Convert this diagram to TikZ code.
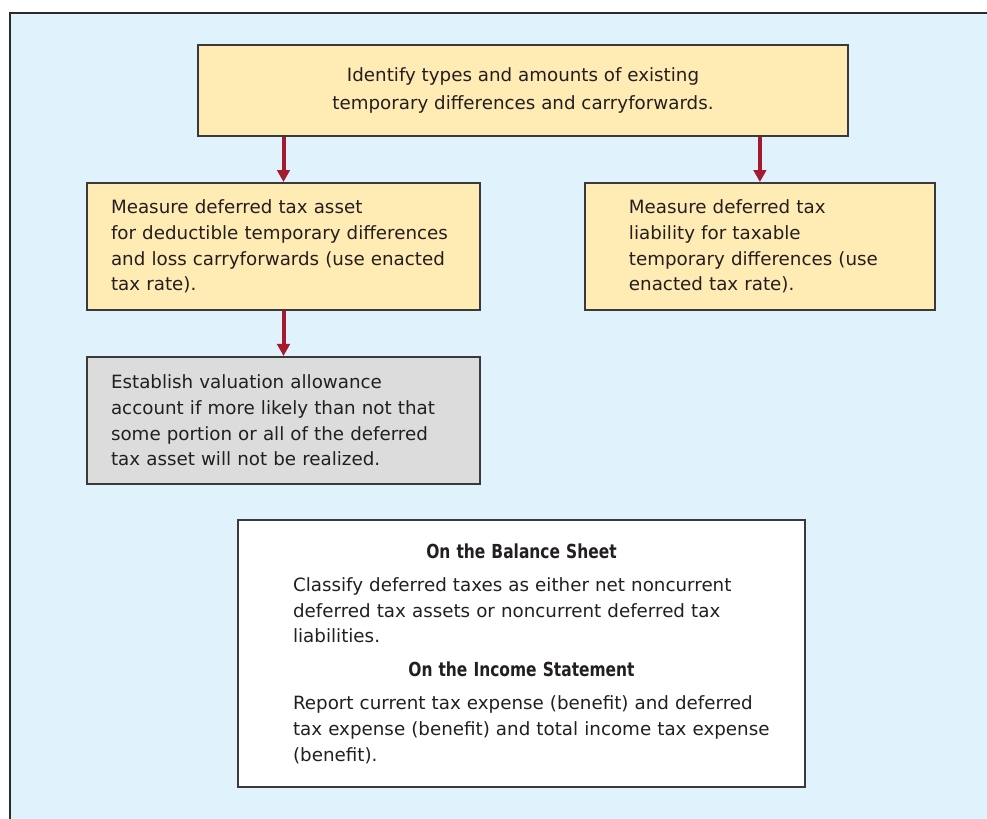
\documentclass[tikz,border=0pt]{standalone}
\usepackage{fontspec}
\setmainfont{DejaVu Sans}
\newfontfamily\headfam[FakeStretch=0.8]{DejaVu Sans}
\usetikzlibrary{arrows.meta,positioning}

\definecolor{panelblue}{HTML}{E0F2FC}
\definecolor{panelline}{HTML}{2B2B2B}
\definecolor{boxyellow}{HTML}{FFEBB3}
\definecolor{boxgrey}{HTML}{DCDCDC}
\definecolor{boxline}{HTML}{3A3A3A}
\definecolor{arrowred}{HTML}{A6192E}
\definecolor{ink}{HTML}{231F20}

\newcommand\txtsize{\fontsize{10.4pt}{14.6pt}\selectfont}
\newcommand\headtxt{\headfam\bfseries\fontsize{11pt}{14.6pt}\selectfont}
\newcommand\fullline[1]{\makebox[\linewidth][l]{#1}}

\tikzset{
	box/.style={draw=boxline, line width=0.04cm, inner ysep=0pt, font=\txtsize, text=ink},
	ybox/.style={box, fill=boxyellow},
	gbox/.style={box, fill=boxgrey},
	wbox/.style={box, fill=white},
	flow/.style={draw=arrowred, line width=0.08cm, -{Triangle[length=0.24cm, width=0.25cm]}},
}

\begin{document}
\begin{tikzpicture}[x=0.02cm, y=-0.02cm]
	\useasboundingbox (0,0) rectangle (987,818);
	\clip (0,0) rectangle (987,818);
	\draw [line width=0.04cm, draw=panelline, fill=panelblue] (10,13) rectangle (1010,840);

	\node (ident) [ybox, minimum width=13cm, minimum height=1.82cm, align=center] at (523,90.5) {Identify types and amounts of existing\\[1.5pt]temporary differences and carryforwards.};

	\node (asset) [ybox, text width=6.9cm, inner xsep=0.48cm, minimum height=2.54cm, align=left] at (283.5,246.5) {Measure deferred tax asset\\for deductible temporary differences\\and loss carryforwards (use enacted\\tax rate).};
	\node (liab) [ybox, text width=5.24cm, inner xsep=0.88cm, minimum height=2.54cm, align=left, right=2.06cm of asset] {Measure deferred tax\\liability for taxable\\temporary differences (use\\enacted tax rate).};

	\node (allow) [gbox, text width=6.9cm, inner xsep=0.48cm, minimum height=2.54cm, align=left, below=0.9cm of asset] {Establish valuation allowance\\account if more likely than not that\\some portion or all of the deferred\\tax asset will not be realized.};

	\node (report) [wbox, text width=9.14cm, inner xsep=1.1cm, minimum height=5.34cm, align=left] at (521.5,653.5) {%
		{\centering\headtxt On the Balance Sheet\par}
		\vspace{4.5pt}
		Classify deferred taxes as either net noncurrent\\
		deferred tax assets or noncurrent deferred tax\\
		liabilities.\par
		\vspace{4.5pt}
		{\centering\headtxt On the Income Statement\par}
		\vspace{4.5pt}
		\fullline{Report current tax expense (benefit) and deferred}\\
		\fullline{tax expense (benefit) and total income tax expense}\\
		(benefit).};

	\draw [flow] (ident.south -| asset.north) -- (asset.north);
	\draw [flow] (ident.south -| liab.north) -- (liab.north);
	\draw [flow] (asset.south) -- (allow.north);
\end{tikzpicture}
\end{document}
